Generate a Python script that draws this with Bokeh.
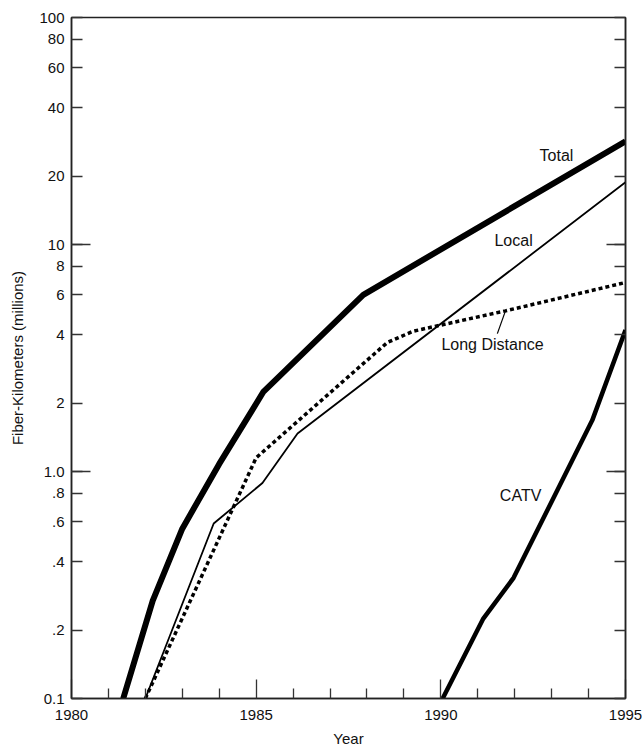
from bokeh.plotting import figure
from bokeh.models import FixedTicker, LogAxis, Label, Range1d
from bokeh.embed import file_html
from bokeh.resources import INLINE

# ---- data ----
total_years = [1981.4, 1982.2, 1983.0, 1984.0, 1985.2, 1987.9, 1995.0]
total_vals = [0.1, 0.27, 0.56, 1.08, 2.25, 6.0, 28.5]

local_years = [1982.0, 1983.85, 1985.17, 1986.12, 1995.0]
local_vals = [0.1, 0.59, 0.89, 1.47, 18.8]

ld_years = [1982.0, 1985.0, 1988.55, 1989.25, 1991.75, 1995.0]
ld_vals = [0.1, 1.15, 3.7, 4.15, 5.1, 6.8]

catv_years = [1990.05, 1991.15, 1991.97, 1994.1, 1995.0]
catv_vals = [0.1, 0.225, 0.34, 1.68, 4.2]

x_labeled = [1980, 1985, 1990, 1995]
x_years = list(range(1981, 1995))
x_long = [1985, 1990]

y_ticks = [0.1, 0.2, 0.4, 0.6, 0.8, 1.0, 2, 4, 6, 8, 10, 20, 40, 60, 80, 100]
y_labels = ["0.1", ".2", ".4", ".6", ".8", "1.0", "2", "4", "6", "8",
            "10", "20", "40", "60", "80", "100"]
y_long = [1.0, 10]

series_names = ["Total", "Local", "Long Distance", "CATV"]
label_x = [1993.13, 1991.97, 1991.4, 1992.16]
label_y = [24.7, 10.4, 3.63, 0.78]
leader_x = [1991.53, 1991.75]
leader_y = [4.05, 5.1]

FONT = "Liberation Sans"
INK = "#111111"
TICK = "#333333"

p = figure(width=642, height=750, y_axis_type="log",
           x_range=Range1d(1980, 1995), y_range=Range1d(0.1, 100),
           output_backend="svg", toolbar_location=None,
           min_border_left=71, min_border_right=17,
           min_border_top=17, min_border_bottom=52)
p.grid.visible = False
p.outline_line_color = "#222222"
p.outline_line_width = 1.5
p.background_fill_color = "white"
p.border_fill_color = "white"


def style_ticks(ax):
    ax.major_tick_out = 0
    ax.minor_tick_out = 0
    ax.major_tick_line_color = TICK
    ax.minor_tick_line_color = TICK
    ax.major_tick_line_width = 1.3
    ax.minor_tick_line_width = 1.3
    ax.axis_line_color = "#222222"
    ax.axis_line_width = 1.5


# bottom axis
xa = p.xaxis[0]
xa.ticker = FixedTicker(ticks=x_labeled,
                        minor_ticks=[y for y in x_years if y not in x_long])
style_ticks(xa)
xa.major_tick_in = 19
xa.minor_tick_in = 10
xa.major_label_standoff = 11
xa.major_label_text_font = FONT
xa.major_label_text_font_size = "15px"
xa.major_label_text_color = INK
xa.axis_label = "Year"
xa.axis_label_text_font = FONT
xa.axis_label_text_font_size = "15px"
xa.axis_label_text_font_style = "normal"
xa.axis_label_text_color = INK
xa.axis_label_standoff = 7

# left axis
ya = p.yaxis[0]
ya.ticker = FixedTicker(ticks=y_ticks, minor_ticks=y_long)
ya.major_label_overrides = {t: s for t, s in zip(y_ticks, y_labels)}
style_ticks(ya)
ya.major_tick_in = 11
ya.minor_tick_in = 19
ya.major_label_standoff = 7
ya.major_label_text_font = FONT
ya.major_label_text_font_size = "15px"
ya.major_label_text_color = INK
ya.axis_label = "Fiber-Kilometers (millions)"
ya.axis_label_text_font = FONT
ya.axis_label_text_font_size = "15px"
ya.axis_label_text_font_style = "normal"
ya.axis_label_text_color = INK
ya.axis_label_standoff = 10

# right axis: inward ticks only, no labels drawn
ra = LogAxis(ticker=FixedTicker(ticks=y_ticks, minor_ticks=y_long))
style_ticks(ra)
ra.major_tick_in = 11
ra.minor_tick_in = 19
ra.major_label_text_color = None
ra.major_label_text_font_size = "1px"
ra.major_label_standoff = 0
p.add_layout(ra, "right")

# series
p.line(total_years, total_vals, line_width=6, line_color="black")
p.line(local_years, local_vals, line_width=1.8, line_color="black")
p.line(ld_years, ld_vals, line_width=3.5, line_color="black", line_dash="4 3")
p.line(catv_years, catv_vals, line_width=4.5, line_color="black")
p.line(leader_x, leader_y, line_width=1.2, line_color="black")

for name, lx, ly in zip(series_names, label_x, label_y):
    p.add_layout(Label(x=lx, y=ly, text=name, text_align="center",
                       text_baseline="middle", text_font=FONT,
                       text_font_size="16px", text_color=INK))

open("out.html", "w").write(file_html(p, INLINE))
